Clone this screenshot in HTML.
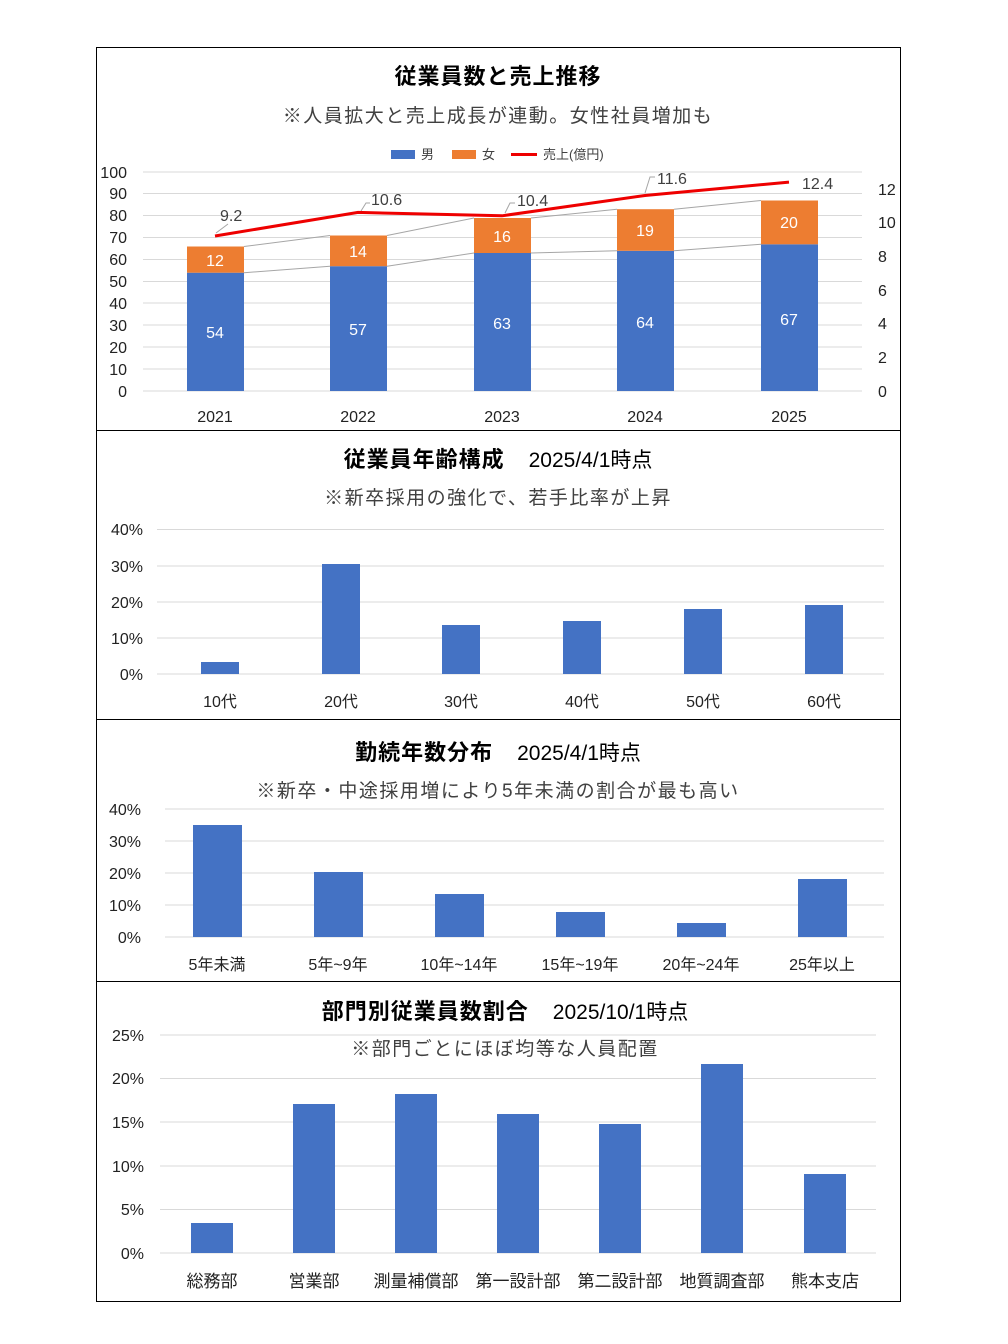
<!DOCTYPE html>
<html><head><meta charset="utf-8"><style>
html,body{margin:0;padding:0;background:#fff}
svg{display:block}
text{font-family:"Liberation Sans","Noto Sans CJK JP",sans-serif}
.t{font-size:22px;font-weight:bold;fill:#000;letter-spacing:1px}
.td{font-size:21px;fill:#000}
.s{font-size:19px;fill:#404040;letter-spacing:1.5px}
.k{font-size:16px;fill:#222}
.g{stroke:#d9d9d9;stroke-width:1}
.b{fill:#4472c4}
.o{fill:#ed7d31}
.w{font-size:16px;fill:#fff}
.dl{font-size:16px;fill:#404040}
</style></head><body>
<svg width="1008" height="1344" viewBox="0 0 1008 1344">
<rect x="96.5" y="47.5" width="804" height="1254" fill="none" stroke="#000"/>
<line x1="96" y1="430.5" x2="901" y2="430.5" stroke="#000"/>
<line x1="96" y1="719.5" x2="901" y2="719.5" stroke="#000"/>
<line x1="96" y1="981.5" x2="901" y2="981.5" stroke="#000"/>

<!-- Chart 1 -->
<text class="t" x="498" y="84" text-anchor="middle">従業員数と売上推移</text>
<text class="s" x="498" y="122" text-anchor="middle">※人員拡大と売上成長が連動。女性社員増加も</text>
<rect x="391" y="150" width="24" height="9" class="b"/><text x="421" y="159" font-size="13" fill="#404040">男</text>
<rect x="452" y="150" width="24" height="9" class="o"/><text x="482" y="159" font-size="13" fill="#404040">女</text>
<line x1="511" y1="154.5" x2="537" y2="154.5" stroke="#e00" stroke-width="3"/><text x="543" y="159" font-size="13" fill="#404040">売上(億円)</text>
<g class="g">
<line x1="143" y1="391" x2="862" y2="391"/><line x1="143" y1="369" x2="862" y2="369"/><line x1="143" y1="347" x2="862" y2="347"/><line x1="143" y1="325" x2="862" y2="325"/><line x1="143" y1="303" x2="862" y2="303"/><line x1="143" y1="281.5" x2="862" y2="281.5"/><line x1="143" y1="259.5" x2="862" y2="259.5"/><line x1="143" y1="237.5" x2="862" y2="237.5"/><line x1="143" y1="215.5" x2="862" y2="215.5"/><line x1="143" y1="193.5" x2="862" y2="193.5"/><line x1="143" y1="172" x2="862" y2="172"/>
</g>
<g class="k" text-anchor="end">
<text x="127" y="397">0</text><text x="127" y="375">10</text><text x="127" y="353">20</text><text x="127" y="331">30</text><text x="127" y="309">40</text><text x="127" y="287">50</text><text x="127" y="265">60</text><text x="127" y="243">70</text><text x="127" y="221">80</text><text x="127" y="199">90</text><text x="127" y="178">100</text>
</g>
<g class="k">
<text x="878" y="397">0</text><text x="878" y="363">2</text><text x="878" y="329">4</text><text x="878" y="296">6</text><text x="878" y="262">8</text><text x="878" y="228">10</text><text x="878" y="195">12</text>
</g>
<rect x="187" y="272.7" width="57" height="118.3" class="b"/><rect x="187" y="246.5" width="57" height="26.2" class="o"/>
<rect x="330" y="266.2" width="57" height="124.8" class="b"/><rect x="330" y="235.5" width="57" height="30.7" class="o"/>
<rect x="474" y="253" width="57" height="138" class="b"/><rect x="474" y="218" width="57" height="35" class="o"/>
<rect x="617" y="250.8" width="57" height="140.2" class="b"/><rect x="617" y="209.2" width="57" height="41.6" class="o"/>
<rect x="761" y="244.3" width="57" height="146.7" class="b"/><rect x="761" y="200.5" width="57" height="43.8" class="o"/>
<g stroke="#a6a6a6" stroke-width="1" fill="none">
<polyline points="244,272.7 330,266.2"/><polyline points="387,266.2 474,253"/><polyline points="531,253 617,250.8"/><polyline points="674,250.8 761,244.3"/>
<polyline points="244,246.5 330,235.5"/><polyline points="387,235.5 474,218"/><polyline points="531,218 617,209.2"/><polyline points="674,209.2 761,200.5"/>
<polyline points="216,233 228,224"/><polyline points="361,211 366,203 370,203"/><polyline points="505,213 510,203 515,203"/><polyline points="645,193 650,177 655,177"/>
</g>
<g class="w" text-anchor="middle">
<text x="215" y="338">54</text><text x="358" y="335">57</text><text x="502" y="329">63</text><text x="645" y="328">64</text><text x="789" y="325">67</text>
<text x="215" y="266">12</text><text x="358" y="257">14</text><text x="502" y="242">16</text><text x="645" y="236">19</text><text x="789" y="228">20</text>
</g>
<polyline points="215,236 358,212.4 502,215.8 645,195.5 789,182.1" fill="none" stroke="#e00" stroke-width="3"/>
<g class="dl">
<text x="220" y="221">9.2</text><text x="371" y="205">10.6</text><text x="517" y="206">10.4</text><text x="657" y="184">11.6</text><text x="802" y="189">12.4</text>
</g>
<g class="k" text-anchor="middle">
<text x="215" y="422">2021</text><text x="358" y="422">2022</text><text x="502" y="422">2023</text><text x="645" y="422">2024</text><text x="789" y="422">2025</text>
</g>

<!-- Chart 2 -->
<text x="498" y="467" text-anchor="middle"><tspan class="t">従業員年齢構成</tspan><tspan class="td" dx="24">2025/4/1時点</tspan></text>
<text class="s" x="498" y="504" text-anchor="middle">※新卒採用の強化で、若手比率が上昇</text>
<g class="g"><line x1="157" y1="674" x2="884" y2="674"/><line x1="157" y1="638" x2="884" y2="638"/><line x1="157" y1="602" x2="884" y2="602"/><line x1="157" y1="566" x2="884" y2="566"/><line x1="157" y1="529.5" x2="884" y2="529.5"/></g>
<g class="k" text-anchor="end"><text x="143" y="680">0%</text><text x="143" y="644">10%</text><text x="143" y="608">20%</text><text x="143" y="572">30%</text><text x="143" y="535">40%</text></g>
<rect x="201" y="662" width="38" height="12" class="b"/>
<rect x="322" y="564" width="38" height="110" class="b"/>
<rect x="442" y="625" width="38" height="49" class="b"/>
<rect x="563" y="621" width="38" height="53" class="b"/>
<rect x="684" y="609" width="38" height="65" class="b"/>
<rect x="805" y="605" width="38" height="69" class="b"/>
<g class="k" text-anchor="middle"><text x="220" y="707">10代</text><text x="341" y="707">20代</text><text x="461" y="707">30代</text><text x="582" y="707">40代</text><text x="703" y="707">50代</text><text x="824" y="707">60代</text></g>

<!-- Chart 3 -->
<text x="498" y="760" text-anchor="middle"><tspan class="t">勤続年数分布</tspan><tspan class="td" dx="24">2025/4/1時点</tspan></text>
<text class="s" x="498" y="797" text-anchor="middle">※新卒・中途採用増により5年未満の割合が最も高い</text>
<g class="g"><line x1="165" y1="937" x2="884" y2="937"/><line x1="165" y1="905" x2="884" y2="905"/><line x1="165" y1="873" x2="884" y2="873"/><line x1="165" y1="841" x2="884" y2="841"/><line x1="165" y1="809" x2="884" y2="809"/></g>
<g class="k" text-anchor="end"><text x="141" y="943">0%</text><text x="141" y="911">10%</text><text x="141" y="879">20%</text><text x="141" y="847">30%</text><text x="141" y="815">40%</text></g>
<rect x="193" y="825" width="49" height="112" class="b"/>
<rect x="314" y="872" width="49" height="65" class="b"/>
<rect x="435" y="894" width="49" height="43" class="b"/>
<rect x="556" y="912" width="49" height="25" class="b"/>
<rect x="677" y="923" width="49" height="14" class="b"/>
<rect x="798" y="879" width="49" height="58" class="b"/>
<g class="k" text-anchor="middle"><text x="217" y="970">5年未満</text><text x="338" y="970">5年~9年</text><text x="459" y="970">10年~14年</text><text x="580" y="970">15年~19年</text><text x="701" y="970">20年~24年</text><text x="822" y="970">25年以上</text></g>

<!-- Chart 4 -->
<text x="505" y="1019" text-anchor="middle"><tspan class="t">部門別従業員数割合</tspan><tspan class="td" dx="24">2025/10/1時点</tspan></text>
<text class="s" x="505" y="1055" text-anchor="middle">※部門ごとにほぼ均等な人員配置</text>
<g class="g"><line x1="160" y1="1253" x2="876" y2="1253"/><line x1="160" y1="1209.5" x2="876" y2="1209.5"/><line x1="160" y1="1166" x2="876" y2="1166"/><line x1="160" y1="1122" x2="876" y2="1122"/><line x1="160" y1="1078.5" x2="876" y2="1078.5"/><line x1="160" y1="1035" x2="876" y2="1035"/></g>
<g class="k" text-anchor="end"><text x="144" y="1259">0%</text><text x="144" y="1215">5%</text><text x="144" y="1172">10%</text><text x="144" y="1128">15%</text><text x="144" y="1084">20%</text><text x="144" y="1041">25%</text></g>
<rect x="191" y="1223" width="42" height="30" class="b"/>
<rect x="293" y="1104" width="42" height="149" class="b"/>
<rect x="395" y="1094" width="42" height="159" class="b"/>
<rect x="497" y="1114" width="42" height="139" class="b"/>
<rect x="599" y="1124" width="42" height="129" class="b"/>
<rect x="701" y="1064" width="42" height="189" class="b"/>
<rect x="804" y="1174" width="42" height="79" class="b"/>
<g class="k" text-anchor="middle" style="font-size:17px"><text x="212" y="1287">総務部</text><text x="314" y="1287">営業部</text><text x="416" y="1287">測量補償部</text><text x="518" y="1287">第一設計部</text><text x="620" y="1287">第二設計部</text><text x="722" y="1287">地質調査部</text><text x="825" y="1287">熊本支店</text></g>
</svg>
</body></html>
